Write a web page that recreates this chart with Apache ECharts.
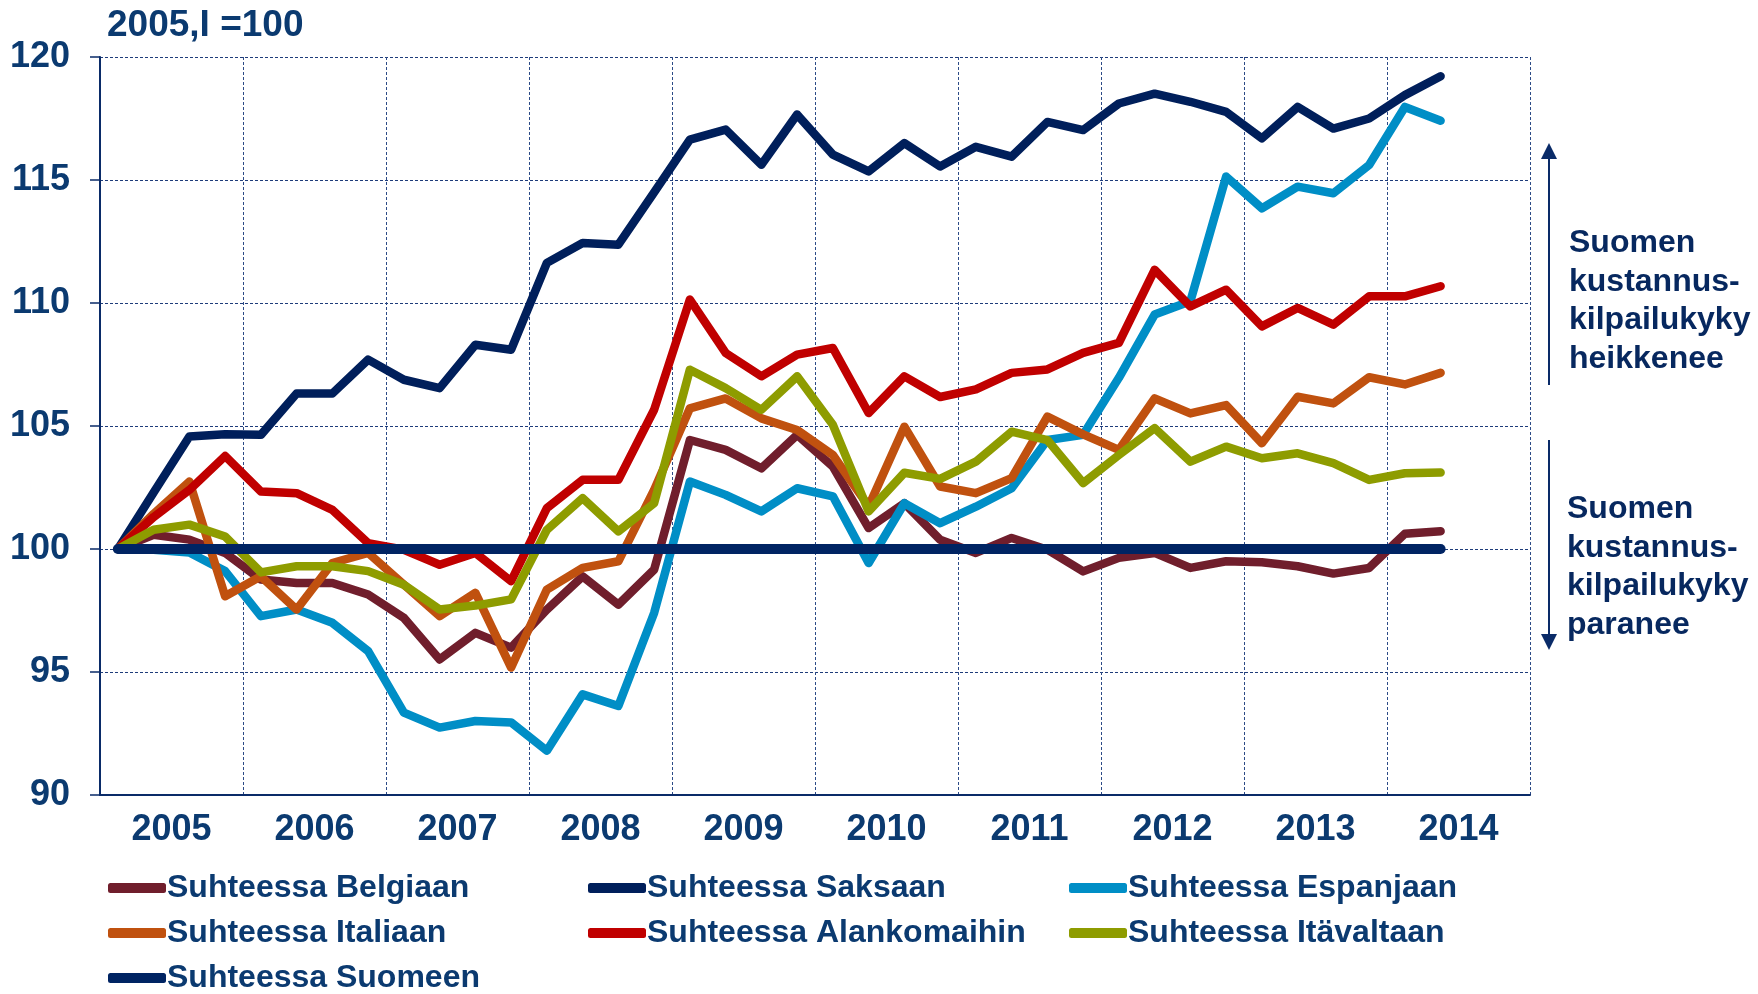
<!DOCTYPE html>
<html>
<head>
<meta charset="utf-8">
<script src="https://cdn.jsdelivr.net/npm/echarts@6/dist/echarts.min.js"></script>
<style>
  html, body { margin: 0; padding: 0; background: #fff; }
  #chart { width: 1758px; height: 994px; }
</style>
</head>
<body>
<div id="chart"></div>
<script>
// vuosineljännekset 2005 I - 2014 II (2014 III-IV tyhjiä)
var years = ['2005', '2006', '2007', '2008', '2009', '2010', '2011', '2012', '2013', '2014'];
var quarters = [];
for (var y = 0; y < years.length; y++) {
	for (var q = 1; q <= 4; q++) quarters.push(years[y] + 'Q' + q);
}

var belgia = [100, 100.58, 100.38, 99.84, 98.76, 98.62, 98.62, 98.15, 97.2, 95.51, 96.59, 95.99, 97.54, 98.89, 97.74, 99.16, 104.43, 104.03, 103.28, 104.64, 103.35, 100.85, 101.86, 100.38, 99.84, 100.45, 99.97, 99.09, 99.64, 99.84, 99.23, 99.5, 99.46, 99.3, 99.0, 99.23, 100.62, 100.72];
var saksa = [100, 102.3, 104.57, 104.66, 104.64, 106.32, 106.32, 107.7, 106.88, 106.54, 108.3, 108.1, 111.63, 112.44, 112.37, 114.5, 116.64, 117.05, 115.62, 117.66, 116.03, 115.35, 116.5, 115.55, 116.35, 115.95, 117.36, 117.03, 118.11, 118.51, 118.18, 117.77, 116.69, 117.97, 117.09, 117.5, 118.45, 119.22];
var espanja = [100, 99.97, 99.86, 99.1, 97.27, 97.54, 97.0, 95.85, 93.35, 92.74, 93.01, 92.95, 91.8, 94.09, 93.62, 97.4, 102.74, 102.2, 101.53, 102.47, 102.14, 99.43, 101.86, 101.05, 101.72, 102.47, 104.43, 104.64, 106.96, 109.53, 110.07, 115.14, 113.85, 114.73, 114.46, 115.61, 117.97, 117.41];
var italia = [100, 101.43, 102.74, 98.08, 98.89, 97.54, 99.43, 99.84, 98.55, 97.27, 98.22, 95.18, 98.35, 99.23, 99.5, 102.4, 105.72, 106.12, 105.31, 104.84, 103.82, 101.73, 104.97, 102.54, 102.27, 102.88, 105.38, 104.66, 104.03, 106.12, 105.51, 105.85, 104.3, 106.19, 105.92, 106.98, 106.69, 107.16];
var alankomaat = [100, 101.3, 102.4, 103.78, 102.34, 102.27, 101.59, 100.24, 99.97, 99.36, 99.84, 98.69, 101.66, 102.81, 102.81, 105.66, 110.14, 107.97, 107.02, 107.9, 108.17, 105.53, 107.02, 106.18, 106.49, 107.16, 107.3, 107.97, 108.38, 111.35, 109.86, 110.54, 109.05, 109.8, 109.12, 110.27, 110.27, 110.68];
var itavalta = [100, 100.78, 100.99, 100.51, 99.05, 99.3, 99.3, 99.1, 98.55, 97.54, 97.7, 97.95, 100.78, 102.07, 100.72, 101.86, 107.29, 106.54, 105.66, 107.02, 105.05, 101.53, 103.1, 102.85, 103.55, 104.77, 104.43, 102.68, 103.82, 104.91, 103.55, 104.16, 103.69, 103.89, 103.49, 102.81, 103.08, 103.11];
var suomi = [100, 100, 100, 100, 100, 100, 100, 100, 100, 100, 100, 100, 100, 100, 100, 100, 100, 100, 100, 100, 100, 100, 100, 100, 100, 100, 100, 100, 100, 100, 100, 100, 100, 100, 100, 100, 100, 100];

var yTicks = [90, 95, 100, 105, 110, 115, 120];

var textColor = '#0B3A70';
var axisColor = '#0A2B68';
var font = '"Liberation Sans", Arial, sans-serif';

var seriesDefs = [
	{ name: 'Suhteessa Belgiaan', data: belgia, color: '#701E2C' },
	{ name: 'Suhteessa Saksaan', data: saksa, color: '#001F5B' },
	{ name: 'Suhteessa Espanjaan', data: espanja, color: '#008EC6' },
	{ name: 'Suhteessa Italiaan', data: italia, color: '#C0510F' },
	{ name: 'Suhteessa Alankomaihin', data: alankomaat, color: '#C00000' },
	{ name: 'Suhteessa Itävaltaan', data: itavalta, color: '#8E9C00' },
	{ name: 'Suhteessa Suomeen', data: suomi, color: '#002463' }
];

var series = seriesDefs.map(function (s, i) {
	return {
		name: s.name,
		type: 'line',
		xAxisIndex: 0,
		data: s.data,
		symbol: 'none',
		color: s.color,
		lineStyle: { width: i === 6 ? 10 : 8.5, color: s.color, cap: 'round', join: 'round' },
		z: 2 + i
	};
});

function legendCol(names, left) {
	return {
		orient: 'vertical',
		left: left,
		top: 872,
		data: names,
		icon: 'roundRect',
		itemWidth: 58,
		itemHeight: 10,
		itemGap: 13,
		padding: 0,
		textStyle: { color: textColor, fontSize: 32, fontWeight: 'bold', fontFamily: font, lineHeight: 32, padding: [0, 0, 0, -4] },
		selectedMode: false
	};
}

var chart = echarts.init(document.getElementById('chart'));
chart.setOption({
	animation: false,
	backgroundColor: '#fff',
	title: {
		text: '2005,I =100',
		left: 107,
		top: 7,
		padding: 0,
		textStyle: { color: textColor, fontSize: 37, fontWeight: 'bold', fontFamily: font }
	},
	grid: { left: 100, right: 228, top: 57, bottom: 199 },
	legend: [
		legendCol(['Suhteessa Belgiaan', 'Suhteessa Italiaan', 'Suhteessa Suomeen'], 108),
		legendCol(['Suhteessa Saksaan', 'Suhteessa Alankomaihin'], 588),
		legendCol(['Suhteessa Espanjaan', 'Suhteessa Itävaltaan'], 1069)
	],
	xAxis: [
		{
			type: 'category',
			data: quarters,
			boundaryGap: true,
			show: false
		},
		{
			type: 'category',
			data: years,
			position: 'bottom',
			boundaryGap: true,
			axisLine: { lineStyle: { color: axisColor, width: 2 } },
			axisTick: { length: 15, lineStyle: { color: axisColor, width: 2 } },
			axisLabel: { color: textColor, fontSize: 36, fontWeight: 'bold', fontFamily: font, margin: 17 },
			splitLine: { show: true, lineStyle: { color: '#2C4A86', width: 1, type: [3, 2] } }
		}
	],
	yAxis: {
		type: 'value',
		min: yTicks[0],
		max: yTicks[yTicks.length - 1],
		interval: 5,
		axisLine: { show: true, lineStyle: { color: axisColor, width: 2 } },
		axisTick: { show: true, length: 10, lineStyle: { color: axisColor, width: 1.5 } },
		axisLabel: { color: textColor, fontSize: 36, fontWeight: 'bold', fontFamily: font, margin: 30 },
		splitLine: { show: true, lineStyle: { color: '#1E3C7A', width: 1, type: [3, 2] } }
	},
	graphic: [
		// nuolet oikealla
		{ type: 'line', shape: { x1: 1549, y1: 155, x2: 1549, y2: 385 }, style: { stroke: axisColor, lineWidth: 2 } },
		{ type: 'polygon', shape: { points: [[1549, 143], [1541, 159], [1557, 159]] }, style: { fill: axisColor } },
		{ type: 'line', shape: { x1: 1549, y1: 440, x2: 1549, y2: 638 }, style: { stroke: axisColor, lineWidth: 2 } },
		{ type: 'polygon', shape: { points: [[1549, 650], [1541, 634], [1557, 634]] }, style: { fill: axisColor } },
		{
			type: 'text', left: 1569, top: 224,
			style: { text: 'Suomen\nkustannus-\nkilpailukyky\nheikkenee', fill: '#07285F', font: 'bold 32px ' + font, lineHeight: 38.5 }
		},
		{
			type: 'text', left: 1567, top: 490,
			style: { text: 'Suomen\nkustannus-\nkilpailukyky\nparanee', fill: '#07285F', font: 'bold 32px ' + font, lineHeight: 38.5 }
		}
	],
	series: series
});
</script>
</body>
</html>
